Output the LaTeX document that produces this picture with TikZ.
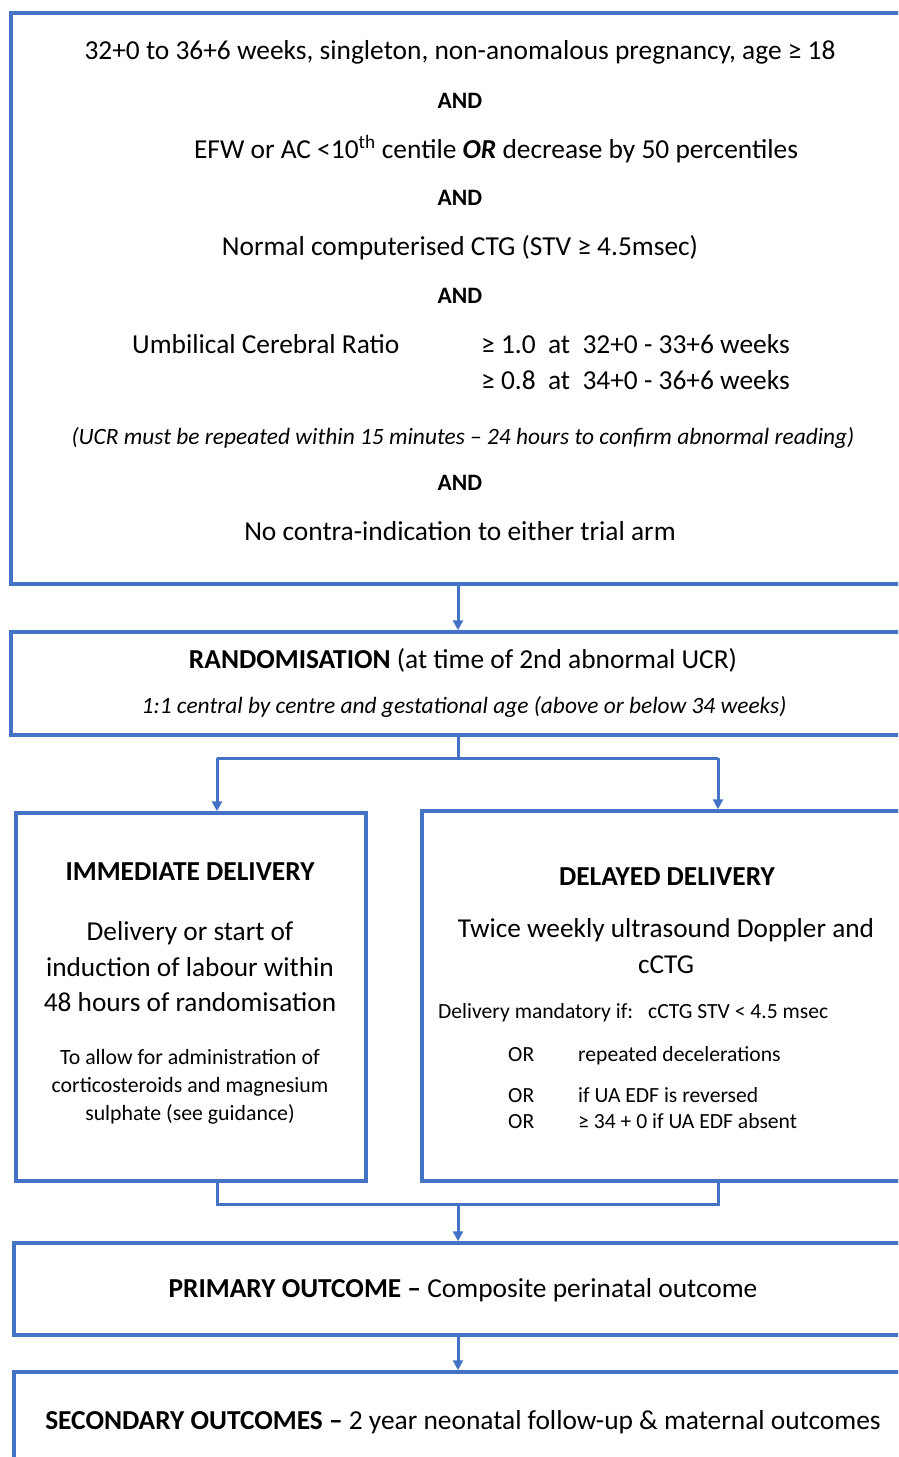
\documentclass[tikz,border=0pt]{standalone}
\usepackage{fontspec}
\setmainfont{Carlito}
\usetikzlibrary{positioning}
\usetikzlibrary{arrows.meta}
\definecolor{boxblue}{HTML}{4472C4}
\tikzstyle{box}=[draw=boxblue,line width=3.5pt,inner sep=0pt]
\tikzstyle{line}=[draw=boxblue,line width=3pt]
\tikzstyle{arrow}=[line,-{Triangle[length=10pt,width=10pt]}]
\tikzstyle{txt}=[font=\fontsize{27.4}{33}\selectfont,inner sep=0pt,anchor=base]
\tikzstyle{andtxt}=[txt,font=\fontsize{23.5}{28}\selectfont\bfseries]
\tikzstyle{itxt}=[txt,font=\fontsize{23.4}{28}\selectfont\itshape]
\tikzstyle{bigtxt}=[font=\fontsize{27.3}{35.5}\selectfont,align=center,inner sep=0pt]
\tikzstyle{smalltxt}=[font=\fontsize{21.6}{28}\selectfont,inner sep=0pt,anchor=base west]
\tikzstyle{notetxt}=[font=\fontsize{21.8}{28}\selectfont,align=center,inner sep=0pt]

\begin{document}
\begin{tikzpicture}[x=1pt,y=-1pt]
    \clip (0,0) rectangle (898,1457);
    % First we draw the boxes
    \node[box,minimum width=894pt,minimum height=571pt] (elig) at (458,298.5) {};
    \node[box,minimum width=894pt,minimum height=103pt] (rand) at (458,683.5) {};
    \node[box,minimum width=350pt,minimum height=368pt] (imm) at (191,997) {};
    \node[box,minimum width=488pt,minimum height=370pt] (del) at (666,996) {};
    \node[box,minimum width=888pt,minimum height=92pt] (prim) at (458,1289) {};
    \node[box,minimum width=888pt,minimum height=148pt] (sec) at (458,1446) {};

    % Eligibility criteria
    \node[txt] (crit1) at (460,59) {32+0 to 36+6 weeks, singleton, non-anomalous pregnancy, age ≥ 18};
    \node[txt] (crit2) at (496,158) {EFW or AC <10\textsuperscript{th} centile \textbf{\textit{OR}} decrease by 50 percentiles};
    \node[txt] (crit3) at (460,255) {Normal computerised CTG (STV ≥ 4.5msec)};
    \node[txt,anchor=base west] (ucr) at (132,353) {Umbilical Cerebral Ratio};
    \node[txt,anchor=base west] (ucra) at (481,353) {≥ 1.0\ \ at\ \ 32+0 - 33+6 weeks};
    \node[txt,anchor=base west] (ucrb) at (481,389) {≥ 0.8\ \ at\ \ 34+0 - 36+6 weeks};
    \node[itxt] (ucrnote) at (463,444) {(UCR must be repeated within 15 minutes – 24 hours to confirm abnormal reading)};
    \node[txt] (crit4) at (460,540) {No contra-indication to either trial arm};
    \foreach \y/\name in {108/and1, 205/and2, 303/and3, 490/and4}
        \node[andtxt] (\name) at (460,\y) {AND};

    % Randomisation
    \node[txt] (randtitle) at (463,668) {\textbf{RANDOMISATION} (at time of 2nd abnormal UCR)};
    \node[itxt] (randnote) at (464,713) {1:1 central by centre and gestational age (above or below 34 weeks)};

    % Trial arms
    \node[txt,font=\fontsize{27.4}{33}\selectfont\bfseries] (immtitle) at (190,880) {IMMEDIATE DELIVERY};
    \node[bigtxt] (immbody) at (190,967) {Delivery or start of\\induction of labour within\\48 hours of randomisation};
    \node[notetxt] (immnote) at (190,1087) {To allow for administration of\\corticosteroids and magnesium\\sulphate (see guidance)};

    \node[txt,font=\fontsize{27.4}{33}\selectfont\bfseries] (deltitle) at (667,885) {DELAYED DELIVERY};
    \node[bigtxt] (delbody) at (666,946) {Twice weekly ultrasound Doppler and\\cCTG};
    \node[smalltxt] (delmand) at (438,1018) {Delivery mandatory if:};
    \node[smalltxt] (delstv) at (648,1018) {cCTG STV < 4.5 msec};
    \foreach \y/\n/\txt in {1061/1/{repeated decelerations}, 1102/2/{if UA EDF is reversed}, 1128/3/{≥ 34 + 0 if UA EDF absent}}{
        \node[smalltxt] (or\n) at (508,\y) {OR};
        \node[smalltxt] (orcrit\n) at (578,\y) {\txt};
    }

    % Outcomes
    \node[txt] (primtext) at (463,1297) {\textbf{PRIMARY OUTCOME –} Composite perinatal outcome};
    \node[txt] (sectext) at (463,1429) {\textbf{SECONDARY OUTCOMES –} 2 year neonatal follow-up \& maternal outcomes};

    % Connect boxes
    \coordinate (split) at (rand.south |- 0,758);
    \coordinate (splita) at (217,758);
    \coordinate (splitb) at (718,758);
    \coordinate (merge) at (prim.north |- 0,1204);
    \coordinate (mergea) at (217,1204);
    \coordinate (mergeb) at (718,1204);
    \path[arrow] (elig.south) -- (rand.north);
    \path[line] (rand.south) -- (split);
    \path[line] (splita) -- (splitb);
    \path[arrow] (splita) -- (splita |- imm.north);
    \path[arrow] (splitb) -- (splitb |- del.north);
    \path[line] (mergea |- imm.south) -- (mergea) -- (mergeb) -- (mergeb |- del.south);
    \path[arrow] (merge) -- (prim.north);
    \path[arrow] (prim.south) -- (sec.north);
\end{tikzpicture}
\end{document}
